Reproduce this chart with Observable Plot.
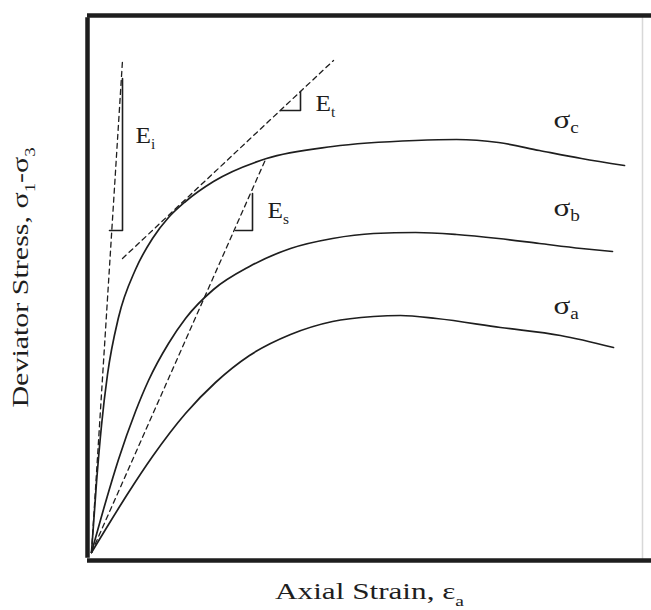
<!DOCTYPE html>
<html>
<head>
<meta charset="utf-8">
<script src="https://cdn.jsdelivr.net/npm/d3@7"></script>
<script src="https://cdn.jsdelivr.net/npm/@observablehq/plot@0.6"></script>
<style>
  html, body { margin: 0; padding: 0; background: #fff; }
  #chart svg { display: block; }
</style>
</head>
<body>
<div id="chart"></div>
<script>
// ---- Data (arbitrary strain / stress units) ----
const curveNames = ["σc", "σb", "σa"];
const sigmaC_x = [4, 9, 14, 20, 31, 48, 65, 81, 98, 126, 179, 245, 328, 369, 411, 452, 494, 537];
const sigmaC_y = [8, 78, 135, 186, 243, 291, 322, 343, 359, 379, 402, 414, 420, 421, 418, 410, 402, 395];
const sigmaB_x = [4, 18, 31, 48, 61, 81, 98, 126, 162, 203, 245, 286, 328, 369, 411, 452, 494, 525];
const sigmaB_y = [8, 58, 101, 149, 180, 217, 242, 271, 294, 312, 322, 327, 328, 326, 322, 317, 312, 309];
const sigmaA_x = [4, 18, 41, 65, 98, 128, 162, 203, 245, 286, 313, 349, 413, 473, 526];
const sigmaA_y = [8, 31, 68, 104, 147, 178, 205, 226, 239, 244, 245, 242, 233, 225, 213];

// Dashed modulus lines: initial (Ei), tangent (Et), secant (Es)
const modulusNames = ["Ei", "Et", "Es"];
const modulusX = [[4, 35], [35, 246], [4, 178]];
const modulusY = [[8, 500], [302, 500], [8, 401]];

// Slope triangles
const triangleX = [[22, 35, 35], [193, 213, 213], [148, 165, 165]];
const triangleY = [[330, 330, 482], [450, 450, 469], [330, 330, 367]];

// Labels
const modLabels = ["E_i", "E_t", "E_s"];
const modLabelX = [48, 228, 180];
const modLabelY = [418, 450, 343];
const curveLabels = ["σ_c", "σ_b", "σ_a"];
const curveLabelX = [466, 466, 466];
const curveLabelY = [433, 345, 247];
const xTitle = "Axial Strain, ε_a";
const yTitle = "Deviator Stress, σ_1-σ_3";

const xDomain = [0, 564];
const yDomain = [0, 545];

// ---- Build tables ----
const curves = [
  ...sigmaC_x.map((x, i) => ({name: curveNames[0], x, y: sigmaC_y[i]})),
  ...sigmaB_x.map((x, i) => ({name: curveNames[1], x, y: sigmaB_y[i]})),
  ...sigmaA_x.map((x, i) => ({name: curveNames[2], x, y: sigmaA_y[i]}))
];
const dashed = modulusNames.flatMap((n, k) => modulusX[k].map((x, i) => ({name: n, x, y: modulusY[k][i]})));
const tris = modulusNames.flatMap((n, k) => triangleX[k].map((x, i) => ({name: n, x, y: triangleY[k][i]})));
const modLab = modLabels.map((t, i) => ({t, x: modLabelX[i], y: modLabelY[i]}));
const curLab = curveLabels.map((t, i) => ({t, x: curveLabelX[i], y: curveLabelY[i]}));

const ink = "#1e1e1e";
const font = "Liberation Serif, Times New Roman, serif";

const svg = Plot.plot({
  width: 651,
  height: 610,
  marginLeft: 87,
  marginRight: 0,
  marginTop: 15,
  marginBottom: 50,
  x: {domain: xDomain, axis: null},
  y: {domain: yDomain, axis: null},
  style: {fontFamily: font, background: "#fff"},
  marks: [
    // frame
    Plot.ruleX([xDomain[1] - 9], {stroke: "#d8d8d8", strokeWidth: 1.5}),
    Plot.ruleY([yDomain[0], yDomain[1]], {stroke: ink, strokeWidth: 4.5}),
    Plot.ruleX([xDomain[0]], {stroke: ink, strokeWidth: 4.5, y1: yDomain[0], y2: yDomain[1], insetTop: -2.2, insetBottom: -2.2}),
    // dashed modulus lines
    Plot.line(dashed, {x: "x", y: "y", z: "name", stroke: ink, strokeWidth: 1.3, strokeDasharray: "5,4"}),
    // slope triangles
    Plot.line(tris, {x: "x", y: "y", z: "name", stroke: ink, strokeWidth: 1.6}),
    // stress-strain curves
    Plot.line(curves, {x: "x", y: "y", z: "name", stroke: ink, strokeWidth: 1.7, curve: "monotone-x"}),
    // labels (order matters for the post-processing below)
    Plot.text(modLab, {x: "x", y: "y", text: "t", textAnchor: "start", lineAnchor: "bottom", fontSize: 23, fill: ink}),
    Plot.text(curLab, {x: "x", y: "y", text: "t", textAnchor: "start", lineAnchor: "bottom", fontSize: 26, fill: ink}),
    Plot.text([xTitle], {x: 282, y: -38, text: d => d, textAnchor: "middle", lineAnchor: "bottom", fontSize: 24, fill: ink}),
    Plot.text([yTitle], {x: -60, y: 283, text: d => d, rotate: -90, textAnchor: "middle", lineAnchor: "bottom", fontSize: 24, fill: ink})
  ]
});

// subscripts and horizontal stretch of the typeset labels
function richify(group, subSize, shift, stretch) {
  d3.select(group).selectAll("text").each(function () {
    const node = this;
    const s = node.textContent;
    const parts = s.split(/_(\w)/);
    while (node.firstChild) node.removeChild(node.firstChild);
    let cur = 0;
    parts.forEach((p, k) => {
      if (!p) return;
      const ts = d3.select(node).append("tspan").text(p);
      if (k % 2) {
        ts.attr("font-size", subSize).attr("dy", shift - cur);
        cur = shift;
      } else if (cur) {
        ts.attr("dy", -cur);
        cur = 0;
      }
    });
    let tr = node.getAttribute("transform");
    if (!tr) {
      const x = node.getAttribute("x") || 0, y = node.getAttribute("y") || 0;
      node.removeAttribute("x"); node.removeAttribute("y");
      tr = `translate(${x},${y})`;
    }
    node.setAttribute("transform", tr + ` scale(${stretch},1)`);
  });
}
const textGroups = d3.select(svg).selectAll('g[aria-label="text"]').nodes();
const specs = [[14, 6, 1.1], [16, 5, 1.2], [15, 7, 1.3], [15, 7, 1.25]];
textGroups.forEach((g, i) => { if (specs[i]) richify(g, ...specs[i]); });

document.getElementById("chart").appendChild(svg);
</script>
</body>
</html>
